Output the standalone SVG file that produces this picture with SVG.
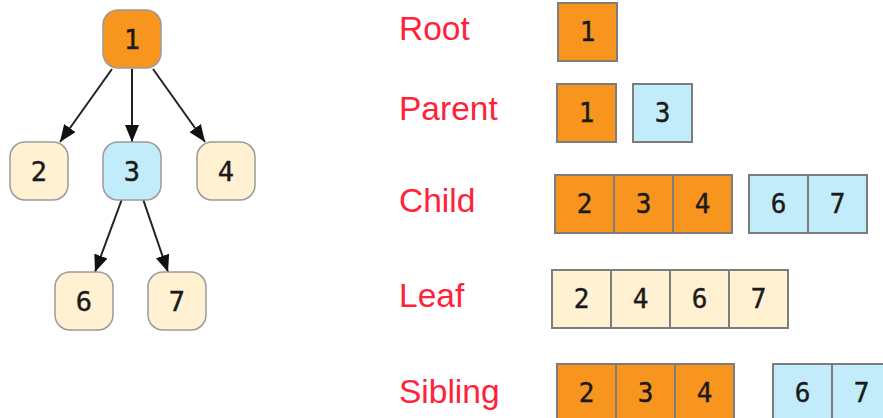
<svg xmlns="http://www.w3.org/2000/svg" width="883" height="418" viewBox="0 0 883 418">
<style>
.bg{fill:#ffffff}
.n{stroke:#9a9a9a;stroke-width:1.5}
.b{stroke:#7d7d7d;stroke-width:2}
.or{fill:#f8951f}
.bl{fill:#c3ecfb}
.cr{fill:#fff1d1}
.d{font-family:"DejaVu Sans Mono","Liberation Mono",monospace;font-size:26px;fill:#1a1a1a;text-anchor:middle;stroke:#1a1a1a;stroke-width:0.4}
.t{font-family:"DejaVu Sans Mono","Liberation Mono",monospace;font-size:27px;fill:#1a1a1a;text-anchor:middle;stroke:#1a1a1a;stroke-width:0.4}
.lab{font-family:"Liberation Sans",Arial,sans-serif;font-size:33.5px;fill:#ff2238}
.e{stroke:#222;stroke-width:2;fill:none}
</style>
<defs>
<marker id="ah" markerUnits="userSpaceOnUse" markerWidth="17" markerHeight="14" refX="17" refY="7" orient="auto">
<path d="M0,0 L17,7 L0,14 z" fill="#111"/>
</marker>
</defs>
<rect class="bg" x="0" y="0" width="883" height="418"/>

<g id="connectors">
<line class="e" x1="112" y1="69" x2="60" y2="142" marker-end="url(#ah)"/>
<line class="e" x1="132" y1="69" x2="132" y2="142" marker-end="url(#ah)"/>
<line class="e" x1="153" y1="69" x2="205" y2="142" marker-end="url(#ah)"/>
<line class="e" x1="122" y1="199" x2="95" y2="272" marker-end="url(#ah)"/>
<line class="e" x1="143" y1="199" x2="168" y2="272" marker-end="url(#ah)"/>
</g>

<g id="node1"><rect class="n or" x="103" y="10" width="58" height="58" rx="15"/><text class="t" x="132" y="49">1</text></g>
<g id="node2"><rect class="n cr" x="10" y="142" width="58" height="58" rx="15"/><text class="t" x="39" y="181">2</text></g>
<g id="node3"><rect class="n bl" x="103" y="142" width="58" height="58" rx="15"/><text class="t" x="132" y="181">3</text></g>
<g id="node4"><rect class="n cr" x="197" y="142" width="58" height="58" rx="15"/><text class="t" x="226" y="181">4</text></g>
<g id="node6"><rect class="n cr" x="55" y="272" width="58" height="58" rx="15"/><text class="t" x="84" y="311">6</text></g>
<g id="node7"><rect class="n cr" x="148" y="272" width="58" height="58" rx="15"/><text class="t" x="177" y="311">7</text></g>

<g id="root-row">
<text class="lab" x="399" y="40">Root</text>
<rect class="b or" x="558" y="3" width="59" height="58"/><text class="d" x="587.5" y="41">1</text>
</g>

<g id="parent-row">
<text class="lab" x="399" y="120">Parent</text>
<rect class="b or" x="557" y="84" width="59" height="58"/><text class="d" x="586.5" y="122">1</text>
<rect class="b bl" x="633" y="84" width="59" height="58"/><text class="d" x="662.5" y="122">3</text>
</g>

<g id="child-row">
<text class="lab" x="399" y="212">Child</text>
<rect class="b or" x="555" y="175" width="59" height="58"/><text class="d" x="584.5" y="213">2</text>
<rect class="b or" x="614" y="175" width="59" height="58"/><text class="d" x="643.5" y="213">3</text>
<rect class="b or" x="673" y="175" width="59" height="58"/><text class="d" x="702.5" y="213">4</text>
<rect class="b bl" x="749" y="175" width="59" height="58"/><text class="d" x="778.5" y="213">6</text>
<rect class="b bl" x="808" y="175" width="59" height="58"/><text class="d" x="837.5" y="213">7</text>
</g>

<g id="leaf-row">
<text class="lab" x="399" y="307">Leaf</text>
<rect class="b cr" x="552" y="270" width="59" height="58"/><text class="d" x="581.5" y="308">2</text>
<rect class="b cr" x="611" y="270" width="59" height="58"/><text class="d" x="640.5" y="308">4</text>
<rect class="b cr" x="670" y="270" width="59" height="58"/><text class="d" x="699.5" y="308">6</text>
<rect class="b cr" x="729" y="270" width="59" height="58"/><text class="d" x="758.5" y="308">7</text>
</g>

<g id="sibling-row">
<text class="lab" x="399" y="403">Sibling</text>
<rect class="b or" x="557" y="364" width="59" height="60"/><text class="d" x="586.5" y="402">2</text>
<rect class="b or" x="616" y="364" width="59" height="60"/><text class="d" x="645.5" y="402">3</text>
<rect class="b or" x="675" y="364" width="59" height="60"/><text class="d" x="704.5" y="402">4</text>
<rect class="b bl" x="773" y="364" width="59" height="60"/><text class="d" x="802.5" y="402">6</text>
<rect class="b bl" x="832" y="364" width="59" height="60"/><text class="d" x="861.5" y="402">7</text>
</g>
</svg>
